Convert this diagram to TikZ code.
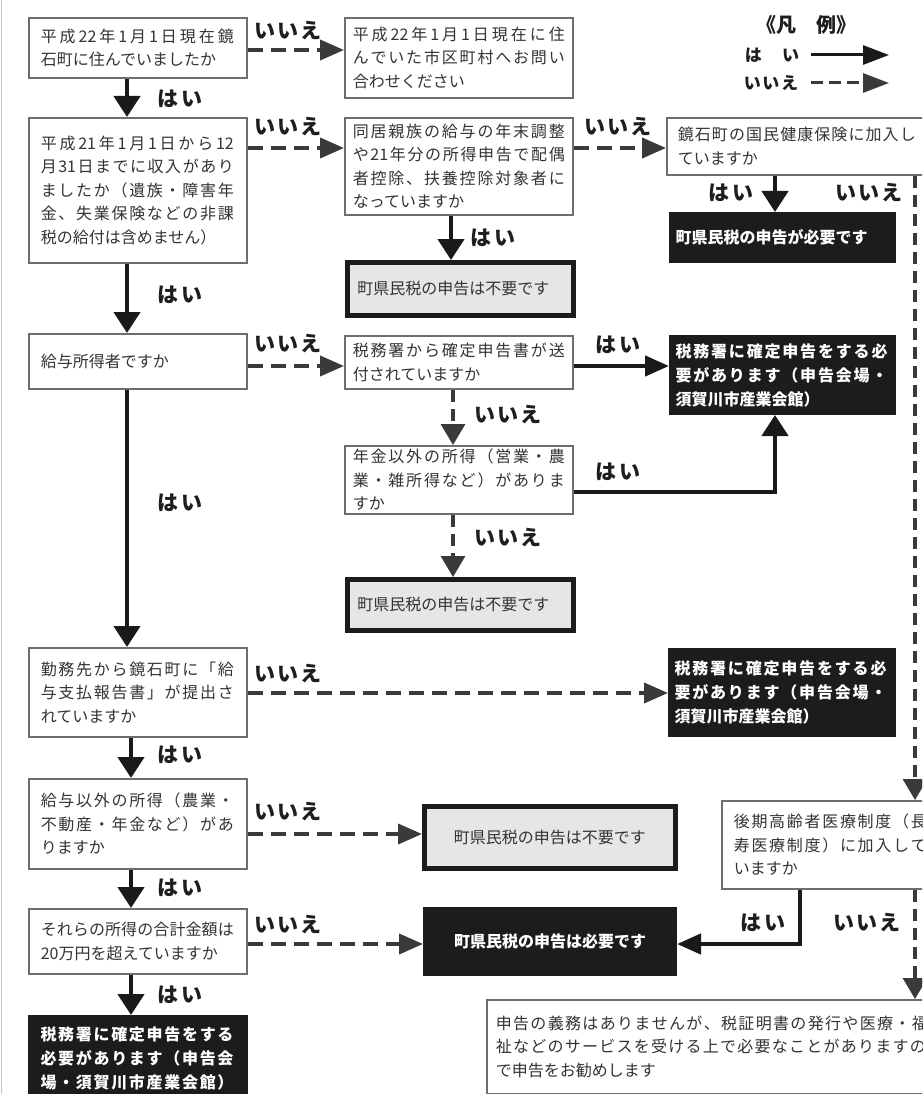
\documentclass[tikz,border=0pt]{standalone}
\usepackage{fontspec}
\usetikzlibrary{arrows.meta,calc}
\newfontfamily\jp{Noto Sans CJK JP}
\newfontfamily\jpl[LetterSpace=10]{Noto Sans CJK JP}
\definecolor{txt}{HTML}{333333}
\definecolor{lbl}{HTML}{1E1E1E}
\definecolor{boxline}{HTML}{6E6E6E}
\definecolor{blk}{HTML}{1C1C1C}
\definecolor{graybox}{HTML}{E6E6E6}
\definecolor{arr}{HTML}{1A1A1A}
\definecolor{darr}{HTML}{3A3A3A}
\ExplSyntaxOn
\NewDocumentCommand\jline{mm}{\mode_leave_vertical:\hbox_to_wd:nn{#1}{\tl_map_inline:nn{#2}{##1\hfil}\skip_horizontal:n{0pt~plus~-1fil}}}
\ExplSyntaxOff
\tikzset{
  at box/.style n args={4}{anchor=north west, at={(#1,#2)}, minimum width=#3, minimum height=#4},
  qbox/.style={draw=boxline, line width=1.6pt, fill=white, inner sep=0pt, text=txt, align=left,
    font=\jp\fontsize{16}{23.5}\selectfont},
  gbox/.style={draw=blk, line width=4.5pt, fill=graybox, inner sep=0pt, text=txt, align=left,
    font=\jp\fontsize{16}{23.5}\selectfont},
  bbox/.style={draw=blk, line width=1pt, fill=blk, inner sep=0pt, text=white, align=left,
    font=\jp\bfseries\fontsize{16}{24}\selectfont},
  lbl/.style={inner sep=0pt, text=lbl, font=\jpl\bfseries\fontsize{21}{21}\selectfont},
  leg/.style={inner sep=0pt, text=lbl, font=\jpl\bfseries\fontsize{17}{17}\selectfont},
  yesv/.style={draw=arr, line width=4.5pt, -{Triangle[length=21pt,width=26pt]}},
  yesh/.style={draw=arr, line width=4.5pt, -{Triangle[length=24pt,width=20pt]}},
  noh/.style={draw=darr, line width=3.8pt, dash pattern=on 15pt off 8pt, -{Triangle[length=24pt,width=20pt]}},
  nov/.style={draw=darr, line width=3.2pt, dash pattern=on 12pt off 7pt, -{Triangle[length=21pt,width=24pt]}},
}
\begin{document}
\begin{tikzpicture}[x=1pt,y=-1pt]
\useasboundingbox (0,0) rectangle (922,1094);
\clip (0,0) rectangle (922,1094);
\fill[white] (0,0) rectangle (922,1094);
\draw[gray!45, line width=1.5pt] (1.5,0) -- (1.5,1094);

% ---------- left column ----------
\node[qbox, at box={28}{17}{218}{60}, text width=194pt] (A1)
  {\jline{193pt}{平成{22}年1月1日現在鏡}\\石町に住んでいましたか};
\node[qbox, at box={28}{117}{218}{145}, text width=194pt] (A2)
  {\jline{193pt}{平成{21}年1月1日から{12}}\\\jline{193pt}{月{31}日までに収入があり}\\\jline{193pt}{ましたか（遺族・障害年}\\\jline{193pt}{金、失業保険などの非課}\\税の給付は含めません）};
\node[qbox, at box={28}{333}{218}{55}, text width=194pt] (A3) {給与所得者ですか};
\node[qbox, at box={28}{647}{218}{89}, text width=194pt] (A4)
  {\jline{193pt}{勤務先から鏡石町に「給}\\\jline{193pt}{与支払報告書」が提出さ}\\れていますか};
\node[qbox, at box={28}{778}{218}{90}, text width=194pt] (A5)
  {\jline{193pt}{給与以外の所得（農業・}\\\jline{193pt}{不動産・年金など）があ}\\りますか};
\node[qbox, at box={28}{908}{218}{65}, text width=194pt] (A6)
  {\jline{193pt}{それらの所得の合計金額は}\\{20}万円を超えていますか};
\node[bbox, at box={28}{1015}{219}{86}, text width=195pt] (A7)
  {\jline{193pt}{税務署に確定申告をする}\\\jline{193pt}{必要があります（申告会}\\\jline{193pt}{場・須賀川市産業会館）}};

% ---------- middle column ----------
\node[qbox, at box={344}{17}{228}{80}, text width=212pt] (B1)
  {\jline{212pt}{平成{22}年1月1日現在に住}\\\jline{212pt}{んでいた市区町村へお問い}\\合わせください};
\node[qbox, at box={344}{117}{228}{97}, text width=212pt] (B2)
  {\jline{212pt}{同居親族の給与の年末調整}\\\jline{212pt}{や{21}年分の所得申告で配偶}\\\jline{212pt}{者控除、扶養控除対象者に}\\なっていますか};
\node[gbox, at box={345}{260}{226}{53}, text width=206pt] (B3) {町県民税の申告は不要です};
\node[qbox, at box={344}{335}{228}{53}, text width=212pt] (B4)
  {\jline{212pt}{税務署から確定申告書が送}\\付されていますか};
\node[qbox, at box={344}{445}{228}{68}, text width=212pt] (B5)
  {\jline{212pt}{年金以外の所得（営業・農}\\\jline{212pt}{業・雑所得など）がありま}\\すか};
\node[gbox, at box={345}{577}{226}{51}, text width=206pt] (B6) {町県民税の申告は不要です};
\node[gbox, at box={422}{804}{251}{62}, align=center] (B7) {町県民税の申告は不要です};
\node[bbox, at box={423}{907}{253}{68}, align=center] (B8) {町県民税の申告は必要です};

% ---------- right column ----------
\node[qbox, at box={666}{117}{294}{57}, text width=272pt] (C1)
  {\jline{238pt}{鏡石町の国民健康保険に加入し}\\ていますか};
\node[bbox, at box={669}{212}{226}{50}, text width=214pt] (C2) {町県民税の申告が必要です};
\node[bbox, at box={669}{335}{226}{79}, text width=214pt] (C3)
  {\jline{212pt}{税務署に確定申告をする必}\\\jline{212pt}{要があります（申告会場・}\\須賀川市産業会館）};
\node[bbox, at box={668}{648}{227}{88}, text width=215pt] (C4)
  {\jline{212pt}{税務署に確定申告をする必}\\\jline{212pt}{要があります（申告会場・}\\須賀川市産業会館）};
\node[qbox, at box={721}{800}{239}{88}, text width=215pt] (C5)
  {\jline{193pt}{後期高齢者医療制度（長}\\\jline{193pt}{寿医療制度）に加入して}\\いますか};
\node[qbox, at box={486}{999}{474}{94}, text width=456pt] (C6)
  {\jline{432pt}{申告の義務はありませんが、税証明書の発行や医療・福}\\\jline{430pt}{祉などのサービスを受ける上で必要なことがありますの}\\で申告をお勧めします};

% ---------- helper coordinates ----------
\coordinate (xa) at (127,0);
\coordinate (xb) at (131,0);
\coordinate (xm1) at (451,0);
\coordinate (xm2) at (453,0);
\coordinate (xc) at (775,0);
\coordinate (xs) at (800,0);
\coordinate (xr) at (915,0);
\coordinate (r1) at (0,50);
\coordinate (r2) at (0,148);
\coordinate (r3) at (0,366);
\coordinate (r4) at (0,693);
\coordinate (r5) at (0,492);
\coordinate (r6) at (0,834);
\coordinate (r7) at (0,944);

% ---------- connectors ----------
\draw[yesv] (A1.south -| xa) -- (A2.north -| xa);
\draw[yesv] (A2.south -| xa) -- (A3.north -| xa);
\draw[yesv] (A3.south -| xa) -- (A4.north -| xa);
\draw[yesv] (A4.south -| xb) -- (A5.north -| xb);
\draw[yesv] (A5.south -| xb) -- (A6.north -| xb);
\draw[yesv] (A6.south -| xb) -- (A7.north -| xb);

\draw[noh] (A1.east |- r1) -- (B1.west |- r1);
\draw[noh] (A2.east |- r2) -- (B2.west |- r2);
\draw[noh] (B2.east |- r2) -- (C1.west |- r2);
\draw[noh] (A3.east |- r3) -- (B4.west |- r3);
\draw[noh] (A4.east |- r4) -- (C4.west |- r4);
\draw[noh] (A5.east |- r6) -- (B7.west |- r6);
\draw[noh] (A6.east |- r7) -- (B8.west |- r7);

\draw[yesv] (B2.south -| xm1) -- (B3.north -| xm1);
\draw[yesv] (C1.south -| xc) -- (C2.north -| xc);
\draw[yesh] (B4.east |- r3) -- (C3.west |- r3);
\draw[yesv] (B5.east |- r5) -| (C3.south -| xc);
\draw[yesh] (C5.south -| xs) |- (B8.east |- r7);

\draw[nov] (B4.south -| xm2) -- (B5.north -| xm2);
\draw[nov] (B5.south -| xm2) -- (B6.north -| xm2);
\draw[nov] (C1.south -| xr) -- (C5.north -| xr);
\draw[nov] (C5.south -| xr) -- (C6.north -| xr);

% ---------- labels ----------
\node[lbl] (l1) at (288,31) {いいえ};
\node[lbl] (l2) at (180,99) {はい};
\node[lbl] (l3) at (288,127) {いいえ};
\node[lbl] (l4) at (180,295) {はい};
\node[lbl] (l5) at (618,127) {いいえ};
\node[lbl] (l6) at (493,238) {はい};
\node[lbl] (l7) at (731,193) {はい};
\node[lbl] (l8) at (869,193) {いいえ};
\node[lbl] (l9) at (288,344) {いいえ};
\node[lbl] (l10) at (618,345) {はい};
\node[lbl] (l11) at (508,415) {いいえ};
\node[lbl] (l12) at (618,472) {はい};
\node[lbl] (l13) at (508,538) {いいえ};
\node[lbl] (l14) at (180,503) {はい};
\node[lbl] (l15) at (288,674) {いいえ};
\node[lbl] (l16) at (180,755) {はい};
\node[lbl] (l17) at (288,812) {いいえ};
\node[lbl] (l18) at (180,888) {はい};
\node[lbl] (l19) at (288,925) {いいえ};
\node[lbl] (l20) at (180,995) {はい};
\node[lbl] (l21) at (763,923) {はい};
\node[lbl] (l22) at (867,923) {いいえ};

% ---------- legend ----------
\node[inner sep=0pt, text=lbl, font=\jp\bfseries\fontsize{20}{20}\selectfont] (legt) at (806,25) {《凡　例》};
\node[leg] (legy) at (772,55) {は　い};
\node[leg] (legn) at (771,83) {いいえ};
\coordinate (ly1) at (811,55);
\coordinate (ly2) at (889,55);
\coordinate (ln1) at (811,83);
\coordinate (ln2) at (889,83);
\draw[draw=arr, line width=3pt, -{Triangle[length=26pt,width=19pt]}] (ly1) -- (ly2);
\draw[draw=darr, line width=3pt, dash pattern=on 12pt off 6pt, -{Triangle[length=26pt,width=19pt]}] (ln1) -- (ln2);
\end{tikzpicture}
\end{document}
